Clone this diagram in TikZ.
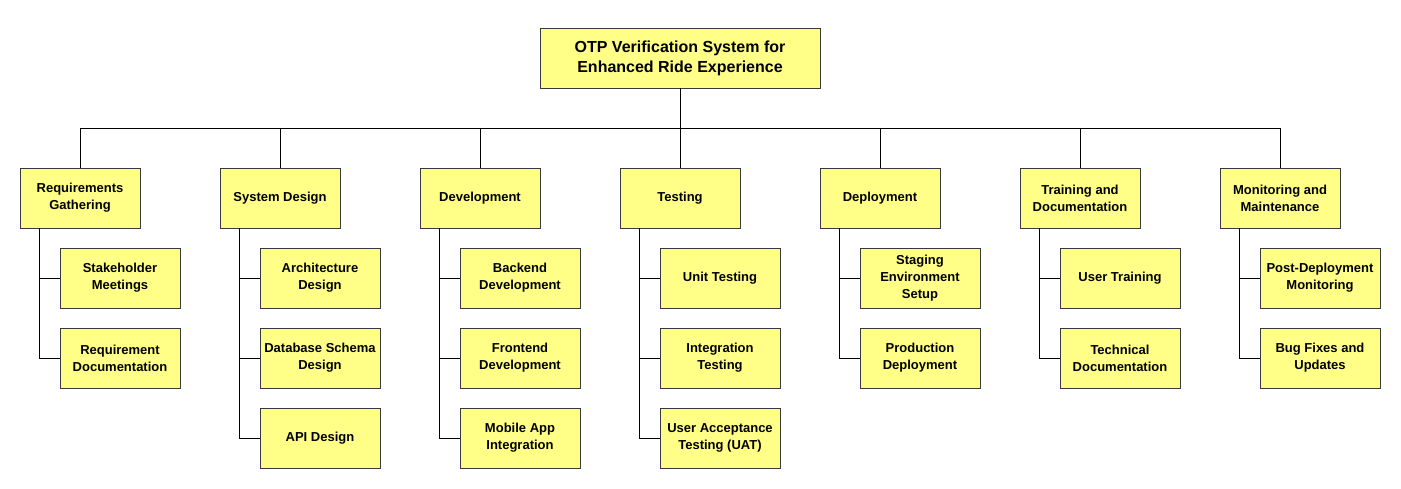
\documentclass[tikz,border=0pt]{standalone}
\usepackage{fontspec}
\setmainfont{Liberation Sans}
\definecolor{boxfill}{HTML}{FFFF88}
\definecolor{boxline}{HTML}{36393D}
\begin{document}
\begin{tikzpicture}[x=1pt,y=-1pt,
  box/.style={draw=boxline,fill=boxfill,line width=0.9pt,minimum width=120pt,minimum height=60pt,inner sep=0pt,align=center,font=\bfseries\fontsize{13}{17}\selectfont},
  rootbox/.style={box,minimum width=280pt,font=\bfseries\fontsize{16}{20}\selectfont},
  link/.style={draw=black,line width=0.8pt}]
\useasboundingbox (0,0) rectangle (1401,489);
\node[rootbox] (root) at (680,58) {OTP Verification System for\\Enhanced Ride Experience};
\coordinate (bus) at (0,128);
% level 1
\node[box] (a) at (80,198) {Requirements\\Gathering};
\node[box] (b) at (280,198) {System Design};
\node[box] (c) at (480,198) {Development};
\node[box] (d) at (680,198) {Testing};
\node[box] (e) at (880,198) {Deployment};
\node[box] (f) at (1080,198) {Training and\\Documentation};
\node[box] (g) at (1280,198) {Monitoring and\\Maintenance};
% children
\node[box] (a1) at (120,278) {Stakeholder\\Meetings};
\node[box] (a2) at (120,358) {Requirement\\Documentation};
\node[box] (b1) at (320,278) {Architecture\\Design};
\node[box] (b2) at (320,358) {Database Schema\\Design};
\node[box] (b3) at (320,438) {API Design};
\node[box] (c1) at (520,278) {Backend\\Development};
\node[box] (c2) at (520,358) {Frontend\\Development};
\node[box] (c3) at (520,438) {Mobile App\\Integration};
\node[box] (d1) at (720,278) {Unit Testing};
\node[box] (d2) at (720,358) {Integration\\Testing};
\node[box] (d3) at (720,438) {User Acceptance\\Testing (UAT)};
\node[box] (e1) at (920,278) {Staging\\Environment\\Setup};
\node[box] (e2) at (920,358) {Production\\Deployment};
\node[box] (f1) at (1120,278) {User Training};
\node[box] (f2) at (1120,358) {Technical\\Documentation};
\node[box] (g1) at (1320,278) {Post-Deployment\\Monitoring};
\node[box] (g2) at (1320,358) {Bug Fixes and\\Updates};
% connectors
\draw[link] (root.south) -- (root.south |- bus);
\draw[link] (a.north |- bus) -- (g.north |- bus);
\foreach \n in {a,b,c,d,e,f,g}{\draw[link] (\n.north |- bus) -- (\n.north);}
\foreach \p/\c in {a/a1,a/a2,b/b1,b/b2,b/b3,c/c1,c/c2,c/c3,d/d1,d/d2,d/d3,e/e1,e/e2,f/f1,f/f2,g/g1,g/g2}{
  \draw[link] ([xshift=20pt]\p.south west) |- (\c.west);}
\end{tikzpicture}
\end{document}
